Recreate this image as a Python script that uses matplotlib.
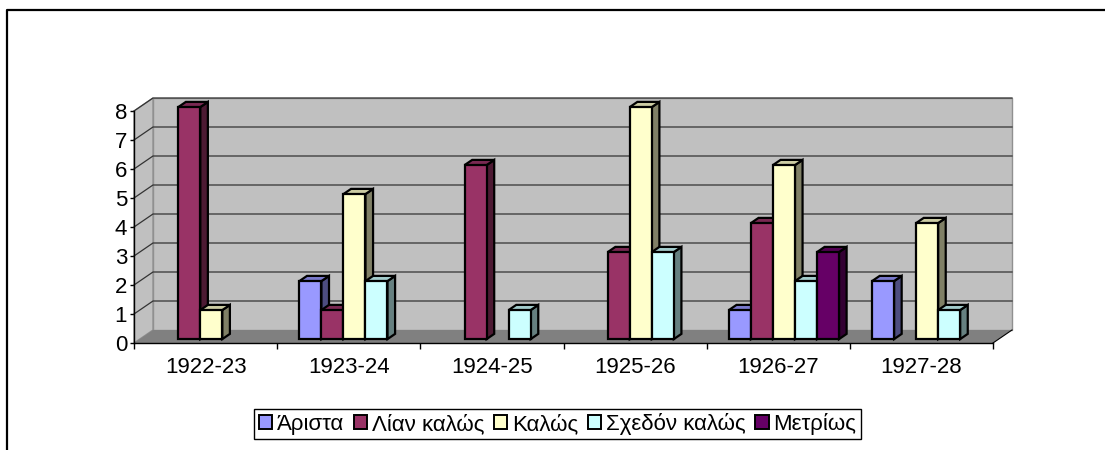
import matplotlib
matplotlib.use("Agg")
import matplotlib.pyplot as plt
from matplotlib.patches import Polygon, Patch
from matplotlib.lines import Line2D
import matplotlib.colors as mcolors

plt.rcParams['font.family'] = ['Liberation Sans', 'DejaVu Sans']

categories = ["1922-23", "1923-24", "1924-25", "1925-26", "1926-27", "1927-28"]
series_names = ["Άριστα", "Λίαν καλώς", "Καλώς", "Σχεδόν καλώς", "Μετρίως"]
aristA = [0, 2, 0, 0, 1, 2]
lian_kalos = [8, 1, 6, 3, 4, 0]
kalos = [1, 5, 0, 8, 6, 4]
sxedon_kalos = [0, 2, 1, 3, 2, 1]
metrios = [0, 0, 0, 0, 3, 0]
series_values = [aristA, lian_kalos, kalos, sxedon_kalos, metrios]
colors = ["#9999FF", "#993366", "#FFFFCC", "#CCFFFF", "#660066"]
y_ticks = list(range(0, 9))

W, H = 1105, 450
fig = plt.figure(figsize=(W / 100, H / 100), dpi=100)

# front plane in pixels
x0, x1 = 134, 993
y0, y1 = 343, 111
ax = fig.add_axes([x0 / W, 1 - y0 / H, (x1 - x0) / W, (y0 - y1) / H])
ax.set_facecolor('none')
ncat = len(categories)
ymax = 8
ax.set_xlim(-0.5, ncat - 0.5)
ax.set_ylim(0, ymax)

xunit = (x1 - x0) / ncat
yunit = (y0 - y1) / ymax
DX = 19 / xunit
DY = 13 / yunit


def P(x, y, d):
    return (x + d * DX, y + d * DY)


def shade(c, f):
    r, g, b = mcolors.to_rgb(c)
    return (r * f, g * f, b * f)


wall = "#C0C0C0"
xl, xr = -0.5, ncat - 0.5
# back wall
ax.add_patch(Polygon([P(xl, 0, 1), P(xr, 0, 1), P(xr, ymax, 1), P(xl, ymax, 1)],
                     closed=True, facecolor=wall, edgecolor="#909090", lw=1, clip_on=False, zorder=1))
# left wall
ax.add_patch(Polygon([P(xl, 0, 0), P(xl, ymax, 0), P(xl, ymax, 1), P(xl, 0, 1)],
                     closed=True, facecolor=wall, edgecolor="#909090", lw=1, clip_on=False, zorder=1))
# floor
ax.add_patch(Polygon([P(xl, 0, 0), P(xr, 0, 0), P(xr, 0, 1), P(xl, 0, 1)],
                     closed=True, facecolor="#808080", edgecolor="none", lw=0, clip_on=False, zorder=1))
ax.plot([P(xr, 0, 0)[0], P(xr, 0, 1)[0]], [P(xr, 0, 0)[1], P(xr, 0, 1)[1]],
        color="black", lw=0.8, clip_on=False, zorder=2)

# gridlines
for v in y_ticks[1:]:
    a, b = P(xl, v, 0), P(xl, v, 1)
    c = P(xr, v, 1)
    ax.plot([a[0], b[0], c[0]], [a[1], b[1], c[1]], color="#333333", lw=0.9,
            clip_on=False, zorder=2)

# bars
nser = len(series_names)
w = 1.0 / (nser + 1.5)
d0, d1 = 0.3, 0.7
for i in range(ncat):
    for j in range(nser):
        v = series_values[j][i]
        if v <= 0:
            continue
        l = i - 0.5 + 0.75 * w + j * w
        r = l + w
        col = colors[j]
        kw = dict(closed=True, edgecolor="black", lw=1.6, clip_on=False, zorder=3,
                  joinstyle='miter')
        ax.add_patch(Polygon([P(r, 0, d0), P(r, v, d0), P(r, v, d1), P(r, 0, d1)],
                             facecolor=shade(col, 0.5), **kw))
        ax.add_patch(Polygon([P(l, v, d0), P(r, v, d0), P(r, v, d1), P(l, v, d1)],
                             facecolor=shade(col, 0.8), **kw))
        ax.add_patch(Polygon([P(l, 0, d0), P(r, 0, d0), P(r, v, d0), P(l, v, d0)],
                             facecolor=col, **kw))

# axes
for s in ["top", "right"]:
    ax.spines[s].set_visible(False)
ax.spines["left"].set_color("black")
ax.spines["bottom"].set_color("black")
ax.spines["left"].set_linewidth(1)
ax.spines["bottom"].set_linewidth(1)
ax.spines["left"].set_zorder(4)
ax.spines["bottom"].set_zorder(4)
ax.set_yticks(y_ticks)
ax.set_yticklabels([str(t) for t in y_ticks])
ax.tick_params(axis='y', length=3, width=1, direction='out', labelsize=16, pad=2)
ax.set_xticks([k - 0.5 for k in range(ncat + 1)])
ax.set_xticklabels([])
ax.set_xticks(list(range(ncat)), minor=True)
ax.set_xticklabels(categories, minor=True)
ax.tick_params(axis='x', which='major', length=4.5, width=1, direction='out')
ax.tick_params(axis='x', which='minor', length=0, labelsize=16, pad=10)

# legend
handles = [Patch(facecolor=c, edgecolor="black", lw=1.4) for c in colors]
leg = fig.legend(handles, series_names, loc='center',
                 bbox_to_anchor=((252 + 863) / 2 / W, 1 - 424 / H), ncol=5,
                 frameon=True, fancybox=False, framealpha=1, edgecolor="black",
                 fontsize=16, handlelength=0.6, handleheight=0.6,
                 handletextpad=0.2, columnspacing=0.45, borderpad=0.2,
                 borderaxespad=0)
leg.get_frame().set_linewidth(1)

# outer chart border (clipped at right and bottom)
fig.add_artist(Line2D([7 / W, 7 / W, 1], [0, 1 - 10 / H, 1 - 10 / H],
                      color="black", lw=1.6, transform=fig.transFigure))

fig.savefig("out.png", dpi=100)
